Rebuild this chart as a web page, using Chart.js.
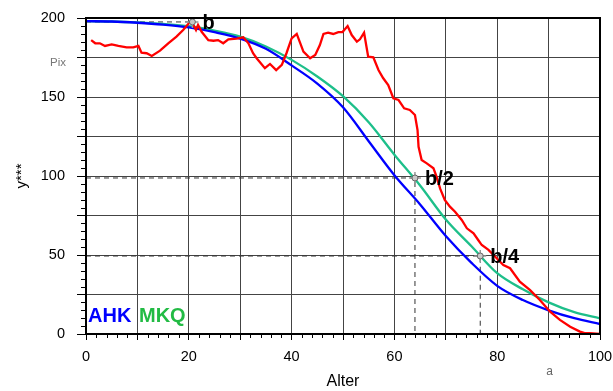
<!DOCTYPE html>
<html>
<head>
<meta charset="utf-8">
<script src="https://cdn.jsdelivr.net/npm/chart.js@4.4.0/dist/chart.umd.min.js"></script>
<style>
  html, body { margin: 0; padding: 0; background: #fff; }
  #wrap { width: 613px; height: 391px; }
</style>
</head>
<body>
<div id="wrap"><canvas id="myChart"></canvas></div>
<script>
// model curves, one value every 5 years
const ages = [0, 5, 10, 15, 20, 25, 30, 35, 40, 45, 50, 55, 60, 65, 70, 75, 80, 85, 90, 95, 100];
const ahk = [198, 197.8, 197, 195.8, 194, 191, 187, 180.5, 170, 158.5, 143.5, 122, 100.5, 82, 62, 45, 30.5, 21.5, 15, 10, 6.3];
const mkq = [198, 197.8, 197.2, 196.2, 194.8, 192, 188.2, 182, 173.5, 163, 150.5, 134, 113.5, 94, 72.5, 55.5, 38.5, 28.3, 20, 13.8, 9.9];

// measured curve (Pix)
const pixAge = [1, 1.8, 2.7, 3.7, 5, 6.3, 7.9, 9.2, 10.2, 10.8, 11.8, 12.8, 14.4, 16, 17.6, 18.9, 20.1, 20.6, 21.4, 21.8, 22.5,
  23.8, 24.8, 25.7, 26.7, 27.7, 29.3, 30.6, 31.6, 32.5, 33.2, 34.8, 35.8, 37, 38.1, 39, 40, 41, 42.3, 43.6, 44.6, 45.5, 46.2,
  47.1, 48.1, 49.1, 49.9, 50.9, 51.7, 52.7, 53.3, 54.1, 54.9, 55.9, 56.9, 57.8, 58.8, 59.8, 60.8, 61.9, 63, 64, 64.5, 64.7,
  65.3, 66.3, 67.6, 68.2, 68.9, 69.8, 70.8, 71.8, 73.1, 74.1, 75.4, 76.3, 77, 78.3, 79.9, 81.2, 82.5, 84.4, 86.4, 88.3, 90.3,
  92.2, 94.2, 96.1, 97, 98, 100];
const pixVal = [186, 184, 184, 182.3, 183.3, 182.3, 181.4, 181.4, 182.3, 178, 177.7, 176, 179.3, 184, 188.2, 192.4, 197, 197.5, 192.4, 195.6, 191.3,
  186, 185.6, 186, 184, 186.5, 187, 187.8, 184, 177.7, 174.5, 168.2, 170.9, 167, 170.3, 177.7, 187.1, 189.9, 178.7, 174.5, 176.6, 182.9, 189.9,
  190.7, 189.9, 191.1, 191.1, 194.9, 189.2, 185, 186.5, 190.7, 175.5, 175.1, 167.1, 162, 157.6, 149.2, 148.1, 142.8, 141.8, 138.6, 129.1, 118.5,
  110.1, 108, 104.9, 99.6, 92, 84.8, 80.6, 77.4, 72.2, 66.9, 63.7, 59.5, 56.3, 53.2, 47.9, 43.7, 41.6, 33.1, 27.8, 21.5, 14.1,
  8.9, 4.6, 1.5, 0.5, 0.5, 0];

// b = peak level, with the ages where b/2 and b/4 are reached
const b = 197.5;
const markAge = [20.7, 64, 76.7];
const markVal = [b, b / 2, b / 4];
const markText = ['b', 'b/2', 'b/4'];

const xLabels = [0, 20, 40, 60, 80, 100];
const yLabels = [0, 50, 100, 150, 200];

const FONT = 'Liberation Sans, Arial, sans-serif';
const pts = (xs, ys) => xs.map((x, i) => ({ x: x, y: ys[i] }));

// dashed guides from the y axis to each marker (and down to the x axis)
const guides = markAge.map((a, i) => ({
  type: 'line',
  data: i === 0
    ? [{ x: 0, y: markVal[i] }, { x: a, y: markVal[i] }]
    : [{ x: 0, y: markVal[i] }, { x: a, y: markVal[i] }, { x: a, y: 0 }],
  borderColor: '#333',
  borderWidth: 1,
  borderDash: [5, 4],
  pointRadius: 0,
  tension: 0,
  order: 10
}));

const extras = {
  id: 'extras',
  afterDatasetsDraw(chart) {
    const { ctx, chartArea: ca, scales: { x, y } } = chart;
    ctx.save();
    // frame
    ctx.strokeStyle = '#000';
    ctx.lineWidth = 2;
    ctx.strokeRect(ca.left, ca.top, ca.right - ca.left, ca.bottom - ca.top);
    // minor ticks
    ctx.lineWidth = 1;
    ctx.beginPath();
    for (let v = 5; v < 200; v += 5) {
      if (v % 25 === 0) continue;
      const py = Math.round(y.getPixelForValue(v)) + 0.5;
      ctx.moveTo(ca.left - 5, py);
      ctx.lineTo(ca.left, py);
    }
    for (let v = 2; v < 100; v += 2) {
      if (v % 10 === 0) continue;
      const px = Math.round(x.getPixelForValue(v)) + 0.5;
      ctx.moveTo(px, ca.bottom);
      ctx.lineTo(px, ca.bottom + 4);
    }
    ctx.stroke();

    // marker labels
    ctx.fillStyle = '#000';
    ctx.font = 'bold 20px ' + FONT;
    ctx.textAlign = 'left';
    ctx.textBaseline = 'alphabetic';
    markText.forEach((t, i) => {
      ctx.fillText(t, x.getPixelForValue(markAge[i]) + 10, y.getPixelForValue(markVal[i]) + 7);
    });

    // curve names
    ctx.fillStyle = '#0000ff';
    ctx.fillText('AHK', ca.left + 2, ca.bottom - 12);
    ctx.fillStyle = '#22bb44';
    ctx.fillText('MKQ', ca.left + 53, ca.bottom - 12);

    // small grey notes
    ctx.fillStyle = '#777';
    ctx.font = '11.5px ' + FONT;
    ctx.textAlign = 'right';
    ctx.fillText('Pix', ca.left - 20, y.getPixelForValue(175) + 8.5);
    ctx.fillStyle = '#666';
    ctx.font = '12px ' + FONT;
    ctx.textAlign = 'center';
    ctx.fillText('a', x.getPixelForValue(90) + 1, ca.bottom + 41);
    ctx.restore();
  }
};

new Chart(document.getElementById('myChart'), {
  type: 'line',
  data: {
    datasets: [
      {
        type: 'scatter',
        data: pts(markAge, markVal),
        pointStyle: 'circle',
        pointRadius: 3,
        backgroundColor: '#c8c8c8',
        borderColor: '#666',
        borderWidth: 1,
        order: 0
      },
      {
        type: 'scatter',
        data: pts(markAge, markVal),
        pointStyle: 'cross',
        pointRadius: 6,
        borderColor: '#999',
        borderWidth: 1.5,
        order: 1
      },
      {
        label: 'Pix',
        data: pts(pixAge, pixVal),
        borderColor: '#ff0000',
        borderWidth: 2.3,
        pointRadius: 0,
        tension: 0,
        order: 2
      },
      {
        label: 'AHK',
        data: pts(ages, ahk),
        borderColor: '#0000ff',
        borderWidth: 2.3,
        pointRadius: 0,
        cubicInterpolationMode: 'monotone',
        order: 3
      },
      {
        label: 'MKQ',
        data: pts(ages, mkq),
        borderColor: '#1dbf8a',
        borderWidth: 2.3,
        pointRadius: 0,
        cubicInterpolationMode: 'monotone',
        order: 4
      },
      ...guides
    ]
  },
  options: {
    responsive: true,
    maintainAspectRatio: false,
    animation: false,
    layout: { autoPadding: false, padding: { top: 18, right: 13, left: 0, bottom: 0 } },
    plugins: { legend: { display: false }, tooltip: { enabled: false } },
    scales: {
      x: {
        type: 'linear',
        min: 0,
        max: 100,
        afterFit: (s) => { s.height = 57; s.paddingLeft = 0; s.paddingRight = 0; },
        ticks: {
          stepSize: 10,
          autoSkip: false,
          maxRotation: 0,
          padding: 8,
          color: '#000',
          font: { family: FONT, size: 14.5 },
          callback: (v) => (xLabels.includes(v) ? String(v) : '')
        },
        grid: { color: '#444', lineWidth: 1, tickLength: 6, tickColor: '#000' },
        border: { color: '#000', width: 2 },
        title: { display: true, text: 'Alter', color: '#000', font: { family: FONT, size: 16 }, padding: { top: 0, bottom: 0 } }
      },
      y: {
        min: 0,
        max: 200,
        afterFit: (s) => { s.width = 86; s.paddingTop = 0; s.paddingBottom = 0; },
        ticks: {
          stepSize: 25,
          autoSkip: false,
          padding: 12,
          color: '#000',
          font: { family: FONT, size: 14.5 },
          callback: (v) => (yLabels.includes(v) ? String(v) : '')
        },
        grid: { color: '#444', lineWidth: 1, tickLength: 9, tickColor: '#000' },
        border: { color: '#000', width: 2 },
        title: { display: true, text: 'y***', color: '#000', font: { family: FONT, size: 15 }, padding: { top: 13, bottom: 0 } }
      }
    }
  },
  plugins: [extras]
});
</script>
</body>
</html>
